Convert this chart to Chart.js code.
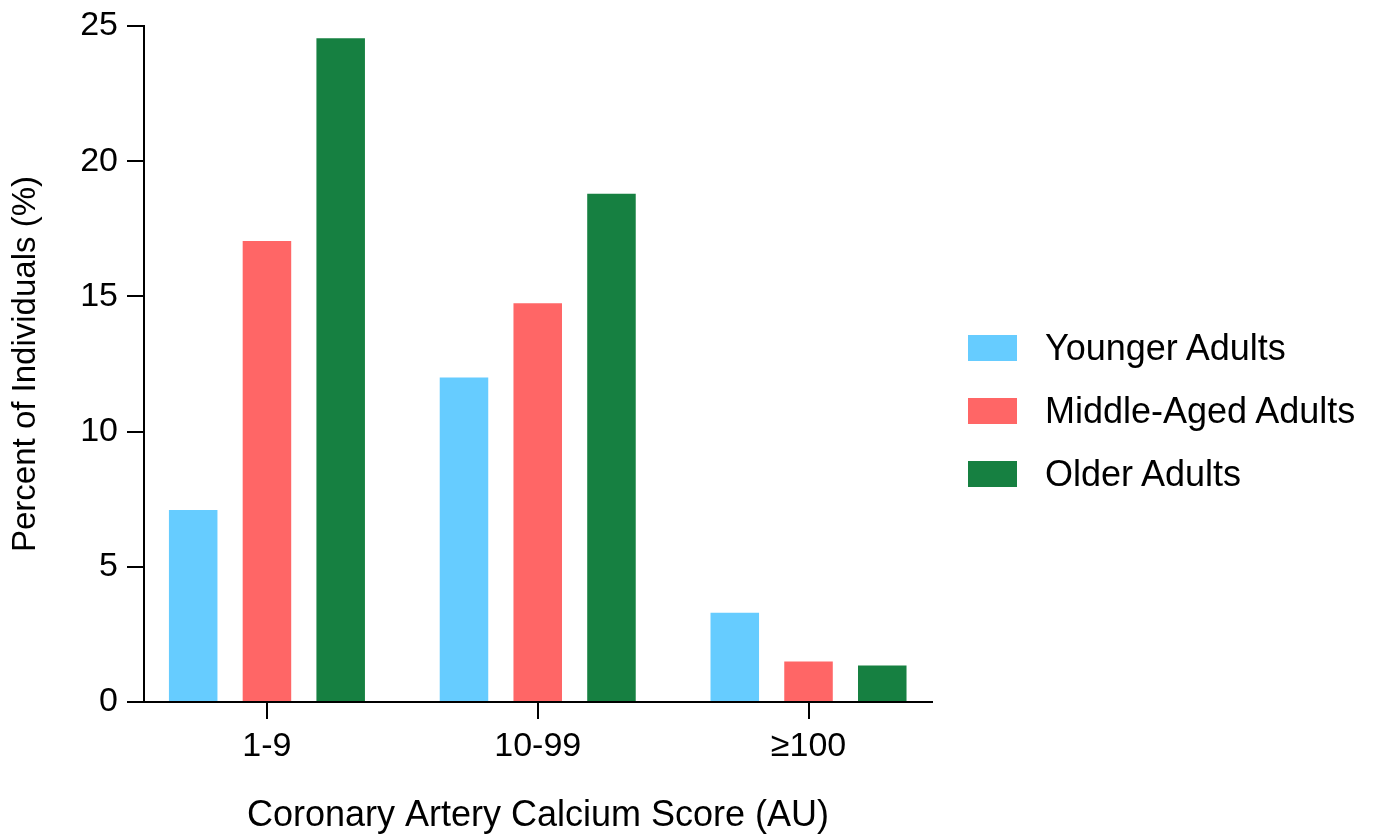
<!DOCTYPE html>
<html>
<head>
<meta charset="utf-8">
<script src="https://cdn.jsdelivr.net/npm/chart.js@4.4.1/dist/chart.umd.min.js"></script>
<style>
  body { margin: 0; background: #fff; }
  #wrap { position: relative; width: 1376px; height: 838px; }
  #legend { position: absolute; left: 968px; top: 316px; font-family: 'Liberation Sans', Arial, sans-serif; font-size: 36px; color: #000; }
  .row { display: flex; align-items: center; height: 63px; }
  .box { width: 49px; height: 26px; margin-right: 28px; }
</style>
</head>
<body>
<div id="wrap">
  <canvas id="chart" width="1376" height="838"></canvas>
  <div id="legend"></div>
</div>
<script>
const categories = ['1-9', '10-99', '≥100'];
const seriesNames = ['Younger Adults', 'Middle-Aged Adults', 'Older Adults'];
const younger = [7.1, 12.0, 3.3];
const middleAged = [17.05, 14.75, 1.5];
const older = [24.55, 18.8, 1.35];
const yTicks = [0, 5, 10, 15, 20, 25];
const colors = ['#66ccff', '#ff6666', '#168041'];

const font = "'Liberation Sans', Arial, sans-serif";

const toPoints = (arr) => arr.map((v, i) => ({ x: i, y: v }));

const datasets = [younger, middleAged, older].map((vals, k) => ({
    label: seriesNames[k],
    data: toPoints(vals),
    backgroundColor: colors[k],
    borderWidth: 0,
    categoryPercentage: 0.817,
    barPercentage: 0.658
}));

// html legend
const legend = document.getElementById('legend');
seriesNames.forEach((name, k) => {
    const row = document.createElement('div');
    row.className = 'row';
    row.innerHTML = '<div class="box" style="background:' + colors[k] + '"></div><span>' + name + '</span>';
    legend.appendChild(row);
});

new Chart(document.getElementById('chart'), {
    type: 'bar',
    data: { datasets: datasets },
    options: {
        responsive: false,
        animation: false,
        layout: { padding: { left: 0, right: 444, top: 25, bottom: 0 } },
        plugins: { legend: { display: false }, tooltip: { enabled: false } },
        scales: {
            x: {
                type: 'linear',
                min: -0.454,
                max: 2.456,
                offset: false,
                bounds: 'data',
                afterBuildTicks: (axis) => { axis.ticks = categories.map((c, i) => ({ value: i })); },
                afterFit: (axis) => { axis.height = 136; },
                ticks: {
                    callback: (v) => categories[v],
                    color: '#000',
                    font: { family: font, size: 34 },
                    padding: 7,
                    maxRotation: 0
                },
                grid: { offset: false, drawOnChartArea: false, tickLength: 17, color: '#000', lineWidth: 2 },
                border: { display: true, color: '#000', width: 2 },
                title: {
                    display: true,
                    text: 'Coronary Artery Calcium Score (AU)',
                    color: '#000',
                    font: { family: font, size: 36 },
                    padding: { top: 0, bottom: 0 }
                }
            },
            y: {
                min: 0,
                max: 25,
                afterBuildTicks: (axis) => { axis.ticks = yTicks.map(v => ({ value: v })); },
                afterFit: (axis) => { axis.width = 144; },
                ticks: {
                    color: '#000',
                    font: { family: font, size: 34, lineHeight: 1 },
                    padding: 9
                },
                grid: { drawOnChartArea: false, tickLength: 17, color: '#000', lineWidth: 2 },
                border: { display: true, color: '#000', width: 2 },
                title: {
                    display: true,
                    text: 'Percent of Individuals (%)',
                    color: '#000',
                    font: { family: font, size: 33 },
                    padding: { top: 6, bottom: 0 }
                }
            }
        }
    }
});
</script>
</body>
</html>
